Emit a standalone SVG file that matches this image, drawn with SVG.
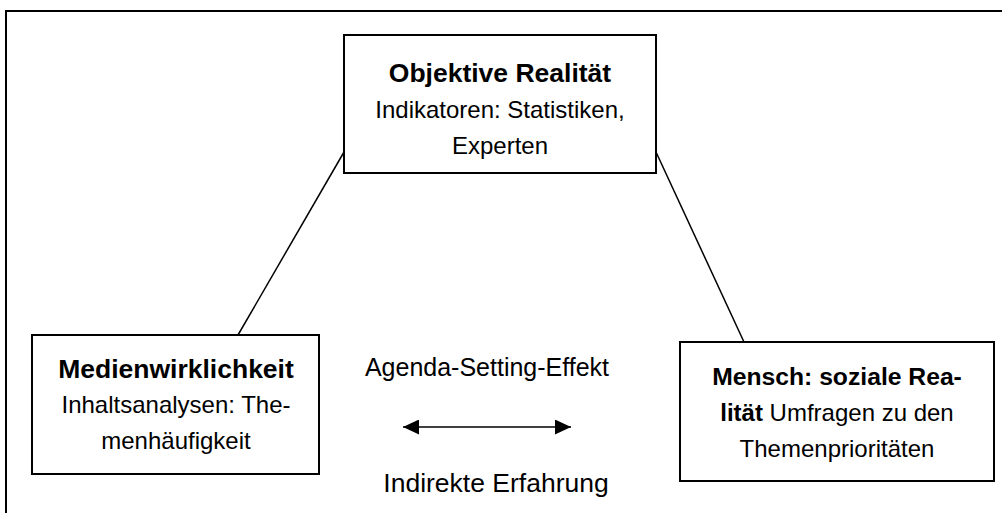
<svg xmlns="http://www.w3.org/2000/svg" width="1002" height="513" viewBox="0 0 1002 513">
  <defs>
    <marker id="head" viewBox="0 0 16 15" refX="16" refY="7.5" markerWidth="16" markerHeight="15" markerUnits="userSpaceOnUse" orient="auto-start-reverse">
      <path d="M0,0 L16,7.5 L0,15 Z" fill="#000"/>
    </marker>
    <style>
      .box { fill: #fff; stroke: #000; stroke-width: 2; }
      .frame { fill: none; stroke: #000; stroke-width: 2; }
      .link { fill: none; stroke: #000; stroke-width: 1.5; }
      text { font-family: "Liberation Sans", Arial, sans-serif; font-size: 24px; fill: #000; text-anchor: middle; }
      .b { font-weight: bold; }
      .title { font-weight: bold; font-size: 26.5px; }
      .title-s { font-weight: bold; font-size: 24.7px; }
      .lbl-a { font-size: 25px; }
      .lbl-b { font-size: 26.5px; }
    </style>
  </defs>

  <rect width="1002" height="513" fill="#fff"/>
  <!-- outer frame, open to the right and bottom -->
  <path class="frame" d="M6,513 L6,11 L1002,11"/>

  <g id="connectors">
    <line class="link" x1="344" y1="152" x2="238" y2="335"/>
    <line class="link" x1="656" y1="152" x2="744" y2="342"/>
    <line class="link" x1="403" y1="427" x2="571" y2="427" stroke-width="2" marker-start="url(#head)" marker-end="url(#head)"/>
  </g>

  <g id="objektive-realitaet">
    <rect class="box" x="344" y="35" width="312" height="138"/>
    <text class="title" x="500" y="82">Objektive Realität</text>
    <text x="500" y="118">Indikatoren: Statistiken,</text>
    <text x="500" y="154">Experten</text>
  </g>

  <g id="medienwirklichkeit">
    <rect class="box" x="32" y="335" width="287" height="139"/>
    <text class="title" x="176" y="378">Medienwirklichkeit</text>
    <text x="176" y="413">Inhaltsanalysen: The-</text>
    <text x="176" y="449">menhäufigkeit</text>
  </g>

  <g id="soziale-realitaet">
    <rect class="box" x="680" y="342" width="314" height="139"/>
    <text class="title-s" x="837" y="385">Mensch: soziale Rea-</text>
    <text x="837" y="421"><tspan class="b">lität</tspan> Umfragen zu den</text>
    <text x="837" y="457">Themenprioritäten</text>
  </g>

  <g id="labels">
    <text class="lbl-a" x="487" y="376">Agenda-Setting-Effekt</text>
    <text class="lbl-b" x="496" y="492">Indirekte Erfahrung</text>
  </g>
</svg>
